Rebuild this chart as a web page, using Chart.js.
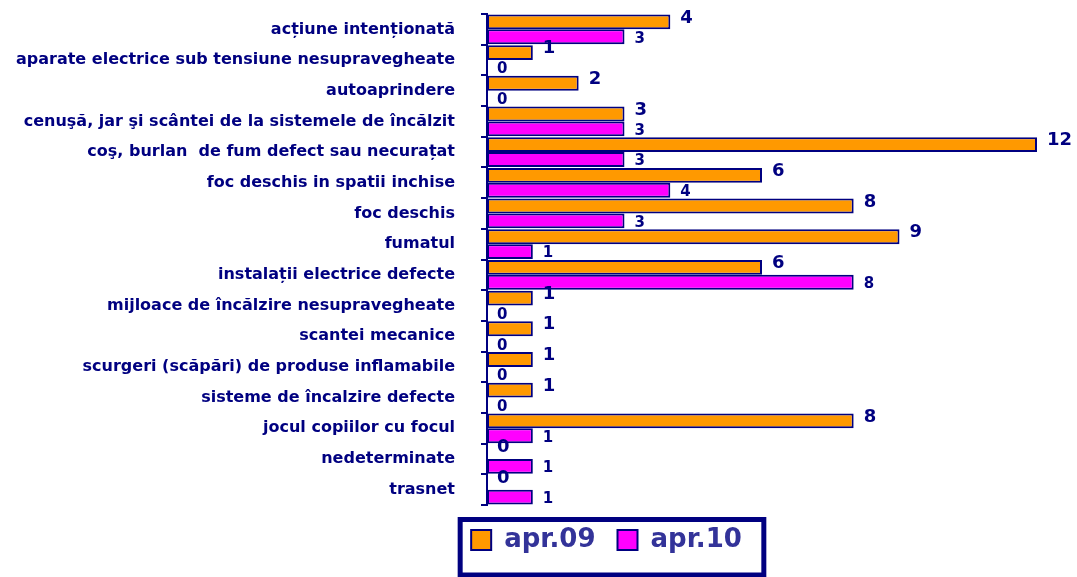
<!DOCTYPE html>
<html>
<head>
<meta charset="utf-8">
<script src="https://cdn.jsdelivr.net/npm/chart.js@4/dist/chart.umd.min.js"></script>
<style>
  html, body { margin: 0; padding: 0; background: #fff; }
</style>
</head>
<body>
<canvas id="c" width="1077" height="577"></canvas>
<script>
// causes of fires, april 2009 vs april 2010
const categories = [
  "acțiune intenționată",
  "aparate electrice sub tensiune nesupravegheate",
  "autoaprindere",
  "cenuşă, jar şi scântei de la sistemele de încălzit",
  "coş, burlan  de fum defect sau necurațat",
  "foc deschis in spatii inchise",
  "foc deschis",
  "fumatul",
  "instalații electrice defecte",
  "mijloace de încălzire nesupravegheate",
  "scantei mecanice",
  "scurgeri (scăpări) de produse inflamabile",
  "sisteme de încalzire defecte",
  "jocul copiilor cu focul",
  "nedeterminate",
  "trasnet"
];
const apr09 = [4, 1, 2, 3, 12, 6, 8, 9, 6, 1, 1, 1, 1, 8, 0, 0];
const apr10 = [3, 0, 0, 3, 3, 4, 3, 1, 8, 0, 0, 0, 0, 1, 1, 1];
const seriesNames = ["apr.09", "apr.10"];

const NAVY = "#000080";
const FONT = '"DejaVu Sans", Verdana, sans-serif';

// numbers next to the bar ends
const valueLabels = {
  id: "valueLabels",
  afterDatasetsDraw(chart) {
    const ctx = chart.ctx;
    ctx.save();
    ctx.fillStyle = NAVY;
    ctx.textAlign = "left";
    ctx.textBaseline = "middle";
    chart.data.datasets.forEach((ds, i) => {
      const meta = chart.getDatasetMeta(i);
      ctx.font = i === 0 ? "bold 18px " + FONT : "bold 15px " + FONT;
      const dy = i === 0 ? -4 : 2;
      meta.data.forEach((bar, j) => {
        ctx.fillText(String(ds.data[j]), bar.x + 10, bar.y + dy);
      });
    });
    ctx.restore();
  }
};

// legend sits a bit right of the canvas middle in the original
const legendShift = {
  id: "legendShift",
  afterLayout(chart) {
    chart.legend.left += 88;
    chart.legend.right += 88;
  }
};

// thick frame round the legend
const legendFrame = {
  id: "legendFrame",
  afterDraw(chart) {
    const boxes = chart.legend.legendHitBoxes;
    if (!boxes || !boxes.length) return;
    const first = boxes[0], last = boxes[boxes.length - 1];
    const cy = first.top + first.height / 2;
    const x0 = first.left - 11, x1 = last.left + last.width + 22;
    const y0 = cy - 20.5, y1 = cy + 35;
    const ctx = chart.ctx;
    ctx.save();
    ctx.strokeStyle = NAVY;
    ctx.lineWidth = 5;
    ctx.strokeRect(x0, y0, x1 - x0, y1 - y0);
    ctx.restore();
  }
};

new Chart(document.getElementById("c"), {
  type: "bar",
  data: {
    labels: categories,
    datasets: [
      {
        label: seriesNames[0],
        data: apr09,
        backgroundColor: "#FF9900",
        borderColor: NAVY,
        borderWidth: 2,
        borderSkipped: false
      },
      {
        label: seriesNames[1],
        data: apr10,
        backgroundColor: "#FF00FF",
        borderColor: NAVY,
        borderWidth: 2,
        borderSkipped: false
      }
    ]
  },
  options: {
    indexAxis: "y",
    responsive: false,
    animation: false,
    datasets: { bar: { categoryPercentage: 0.97, barPercentage: 1.0 } },
    layout: { padding: { left: 0, right: 40, top: 14, bottom: 14 } },
    scales: {
      x: { min: 0, max: 12, display: false },
      y: {
        afterFit: (scale) => {
          scale.width = 487;
          scale.paddingTop = 0;
          scale.paddingBottom = 0;
        },
        grid: {
          offset: true,
          drawOnChartArea: false,
          color: NAVY,
          lineWidth: 2,
          tickLength: 6
        },
        border: { color: NAVY, width: 2 },
        ticks: {
          color: NAVY,
          padding: 26,
          autoSkip: false,
          font: { family: FONT, size: 16, weight: "bold" }
        }
      }
    },
    plugins: {
      tooltip: { enabled: false },
      legend: {
        position: "bottom",
        labels: {
          color: "#333399",
          boxWidth: 20,
          boxHeight: 20,
          padding: 22,
          font: { family: FONT, size: 26, weight: "bold" }
        }
      }
    }
  },
  plugins: [valueLabels, legendShift, legendFrame]
});
</script>
</body>
</html>
